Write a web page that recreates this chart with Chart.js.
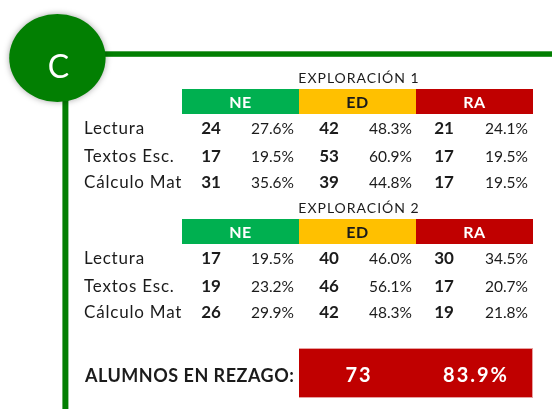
<!DOCTYPE html>
<html>
<head>
<meta charset="utf-8">
<script src="https://cdn.jsdelivr.net/npm/chart.js@4.4.1/dist/chart.umd.min.js"></script>
<style>
  body { margin: 0; background: #fff; }
  #wrap { width: 552px; height: 409px; }
</style>
</head>
<body>
<div id="wrap"><canvas id="tabla"></canvas></div>
<script>
//Table data
const subjects = ['Lectura', 'Textos Esc.', 'Cálculo Mat'];
const levels = ['NE', 'ED', 'RA'];
const titles = ['EXPLORACIÓN 1', 'EXPLORACIÓN 2'];
const exp1Counts = [[24, 42, 21], [17, 53, 17], [31, 39, 17]];
const exp1Pct = [[27.6, 48.3, 24.1], [19.5, 60.9, 19.5], [35.6, 44.8, 19.5]];
const exp2Counts = [[17, 40, 30], [19, 46, 17], [26, 42, 19]];
const exp2Pct = [[19.5, 46.0, 34.5], [23.2, 56.1, 20.7], [29.9, 48.3, 21.8]];
const rezagoLabel = 'ALUMNOS EN REZAGO:';
const rezagoTotal = 73;
const rezagoPct = 83.9;
const badge = 'C';

//Colours
const levelColors = ['#00B050', '#FFC000', '#C00000'];
const levelText = ['#ffffff', '#1a1a1a', '#ffffff'];
const darkGreen = '#027f02';
const ink = '#1b1b1b';

//Layout (canvas units, scales run 1:1 with the page)
const colEdges = [182, 299, 416, 533];
const numX = [211, 329, 444];
const pctRight = [294, 412, 528];
const labelX = 84;
const blocks = [
    { title: 83, header: 101.5, rows: [134, 162, 188], counts: exp1Counts, pct: exp1Pct },
    { title: 213, header: 231.5, rows: [264, 292, 318], counts: exp2Counts, pct: exp2Pct },
];
const fontFam = 'Lato, "Open Sans", sans-serif';

//Header cells and the total box as floating bars
const headerBars = [];
const headerColors = [];
blocks.forEach(function (b) {
    levels.forEach(function (lv, i) {
        headerBars.push({ x: [colEdges[i], colEdges[i + 1]], y: b.header });
        headerColors.push(levelColors[i]);
    });
});

function setFont(ctx, font, spacing) {
    ctx.font = font;
    ctx.letterSpacing = (spacing || 0) + 'px';
}

const decorPlugin = {
    id: 'decor',
    beforeDatasetsDraw(chart) {
        const ctx = chart.ctx;
        const sx = chart.scales.x, sy = chart.scales.y;
        ctx.save();
        ctx.fillStyle = darkGreen;
        // connector lines
        ctx.fillRect(sx.getPixelForValue(90), sy.getPixelForValue(51.3), sx.getPixelForValue(552) - sx.getPixelForValue(90), 5.5);
        ctx.fillRect(sx.getPixelForValue(62.4), sy.getPixelForValue(90), 6, sy.getPixelForValue(409) - sy.getPixelForValue(90));
        // badge
        ctx.shadowColor = 'rgba(0,0,0,0.35)';
        ctx.shadowBlur = 6;
        ctx.beginPath();
        ctx.ellipse(sx.getPixelForValue(57.4), sy.getPixelForValue(58), 48.2, 44, 0, 0, Math.PI * 2);
        ctx.fill();
        ctx.shadowColor = 'transparent';
        ctx.fillStyle = '#ffffff';
        setFont(ctx, '32px ' + fontFam);
        ctx.textAlign = 'center';
        ctx.textBaseline = 'alphabetic';
        ctx.fillText(badge, sx.getPixelForValue(58.5), sy.getPixelForValue(78));
        ctx.restore();
    },
    afterDatasetsDraw(chart) {
        const ctx = chart.ctx;
        const sx = chart.scales.x, sy = chart.scales.y;
        ctx.save();
        ctx.textBaseline = 'alphabetic';
        blocks.forEach(function (b, k) {
            ctx.fillStyle = ink;
            ctx.textAlign = 'center';
            setFont(ctx, '14px ' + fontFam, 1);
            ctx.fillText(titles[k], sx.getPixelForValue(359), sy.getPixelForValue(b.title));
            setFont(ctx, 'bold 16px ' + fontFam, 0.5);
            levels.forEach(function (lv, i) {
                ctx.fillStyle = levelText[i];
                ctx.fillText(lv, sx.getPixelForValue((colEdges[i] + colEdges[i + 1]) / 2), sy.getPixelForValue(b.header + 6.5));
            });
            subjects.forEach(function (s, r) {
                const y = sy.getPixelForValue(b.rows[r]);
                ctx.fillStyle = ink;
                ctx.textAlign = 'left';
                setFont(ctx, '17px ' + fontFam, 0.8);
                ctx.fillText(s, sx.getPixelForValue(labelX), y);
                for (let i = 0; i < 3; i++) {
                    ctx.textAlign = 'center';
                    setFont(ctx, 'bold 17px ' + fontFam);
                    ctx.fillText(String(b.counts[r][i]), sx.getPixelForValue(numX[i]), y);
                    ctx.textAlign = 'right';
                    setFont(ctx, '15.5px ' + fontFam);
                    ctx.fillText(b.pct[r][i].toFixed(1) + '%', sx.getPixelForValue(pctRight[i]), y);
                }
            });
        });
        // total row
        ctx.fillStyle = ink;
        ctx.textAlign = 'left';
        setFont(ctx, 'bold 18px ' + fontFam, 0.5);
        ctx.fillText(rezagoLabel, sx.getPixelForValue(85), sy.getPixelForValue(382));
        ctx.fillStyle = '#ffffff';
        ctx.textAlign = 'center';
        setFont(ctx, 'bold 20px ' + fontFam, 2);
        ctx.fillText(String(rezagoTotal), sx.getPixelForValue(359), sy.getPixelForValue(382));
        ctx.fillText(rezagoPct.toFixed(1) + '%', sx.getPixelForValue(476), sy.getPixelForValue(382));
        ctx.restore();
    }
};

const tabla = new Chart(
    document.getElementById('tabla'),
    {
        type: 'bar',
        data: {
            datasets: [{
                data: headerBars,
                backgroundColor: headerColors,
                grouped: false,
                barPercentage: 1,
                maxBarThickness: 25,
                borderWidth: 0,
            }, {
                data: [{ x: [299, 533], y: 373 }],
                backgroundColor: '#C00000',
                borderColor: '#e7a0a0',
                borderWidth: 1,
                grouped: false,
                barPercentage: 1,
                maxBarThickness: 50,
            }]
        },
        options: {
            indexAxis: 'y',
            responsive: true,
            maintainAspectRatio: false,
            animation: false,
            devicePixelRatio: 1,
            layout: { padding: 0 },
            scales: {
                x: { type: 'linear', min: 0, max: 552, offset: false, display: false },
                y: { type: 'linear', min: 0, max: 409, reverse: true, offset: false, display: false, ticks: { stepSize: 200 } },
            },
            plugins: {
                legend: { display: false },
                tooltip: { enabled: false },
            },
        },
        plugins: [decorPlugin]
    }
);
</script>
</body>
</html>
